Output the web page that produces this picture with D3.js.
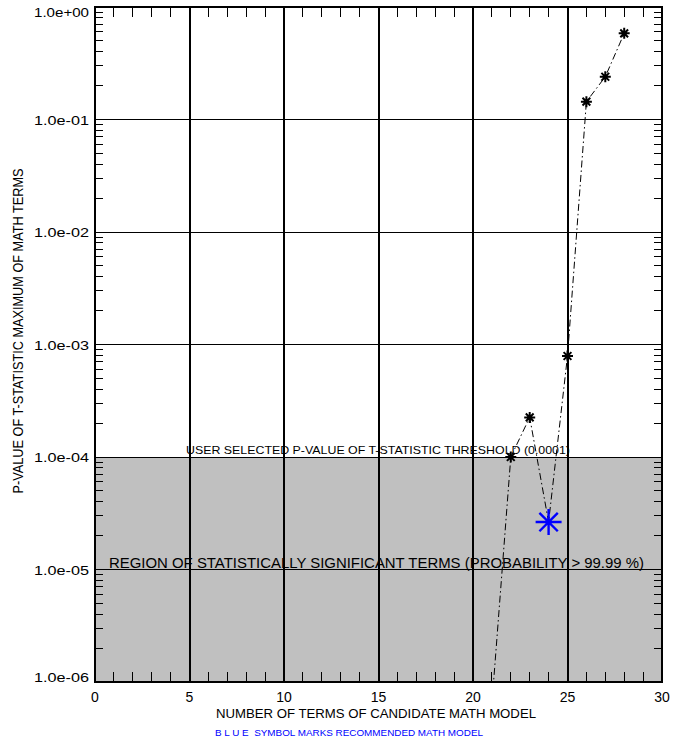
<!DOCTYPE html>
<html>
<head>
<meta charset="utf-8">
<script src="https://cdn.jsdelivr.net/npm/d3@7"></script>
<style>
  body { margin: 0; background: #fff; }
  text { font-family: "Liberation Sans", "DejaVu Sans", sans-serif; }
</style>
</head>
<body>
<div id="chart"></div>
<script>
// number of terms in candidate model and p-value of t-statistic maximum
const terms = [21, 22, 23, 24, 25, 26, 27, 28];
const pValues = [6.4e-7, 1.0e-4, 2.25e-4, 2.64e-5, 7.9e-4, 0.144, 0.24, 0.583];
const recommendedTerm = 24;
const threshold = 1e-4;

const xTicks = [0, 5, 10, 15, 20, 25, 30];
const yTicks = [1e0, 1e-1, 1e-2, 1e-3, 1e-4, 1e-5, 1e-6];
const yTickLabels = ['1.0e+00', '1.0e-01', '1.0e-02', '1.0e-03', '1.0e-04', '1.0e-05', '1.0e-06'];

const width = 673, height = 742;
const margin = { left: 95, right: 11, top: 7, bottom: 60 };

const svg = d3.select('#chart').append('svg')
  .attr('width', width)
  .attr('height', height);

const x = d3.scaleLinear().domain([0, 30]).range([margin.left, width - margin.right]);
const y = d3.scaleLog().domain([1e-6, 1]).range([height - margin.bottom, margin.top]);

const x0 = x.range()[0], x1 = x.range()[1];
const yTop = y.range()[1], yBot = y.range()[0];

// shaded region below the threshold
svg.append('rect')
  .attr('x', x0).attr('y', y(threshold))
  .attr('width', x1 - x0).attr('height', yBot - y(threshold))
  .attr('fill', '#c0c0c0')
  .attr('shape-rendering', 'crispEdges');

// grid lines
svg.append('g').attr('shape-rendering', 'crispEdges')
  .selectAll('line')
  .data(xTicks.slice(1, -1))
  .join('line')
  .attr('x1', d => x(d)).attr('x2', d => x(d))
  .attr('y1', yTop).attr('y2', yBot)
  .attr('stroke', '#000').attr('stroke-width', 2);

svg.append('g').attr('shape-rendering', 'crispEdges')
  .selectAll('line')
  .data(yTicks.slice(1, -1))
  .join('line')
  .attr('x1', x0).attr('x2', x1)
  .attr('y1', d => y(d)).attr('y2', d => y(d))
  .attr('stroke', '#000').attr('stroke-width', 1);

// minor ticks
const xMinor = d3.range(1, 30).filter(d => d % 5 !== 0);
const gx = svg.append('g').attr('stroke', '#000').attr('stroke-width', 1)
  .attr('shape-rendering', 'crispEdges');
gx.selectAll('line.b').data(xMinor).join('line').attr('class', 'b')
  .attr('x1', d => x(d)).attr('x2', d => x(d))
  .attr('y1', yBot).attr('y2', yBot - 10);
gx.selectAll('line.t').data(xMinor).join('line').attr('class', 't')
  .attr('x1', d => x(d)).attr('x2', d => x(d))
  .attr('y1', yTop).attr('y2', yTop + 10);

const yMinor = [];
for (let e = -6; e < 0; e++) {
  for (let m = 2; m <= 9; m++) yMinor.push(m * Math.pow(10, e));
}
const gy = svg.append('g').attr('stroke', '#000').attr('stroke-width', 1)
  .attr('shape-rendering', 'crispEdges');
gy.selectAll('line.l').data(yMinor).join('line').attr('class', 'l')
  .attr('x1', x0).attr('x2', x0 + 8)
  .attr('y1', d => y(d)).attr('y2', d => y(d));
gy.selectAll('line.r').data(yMinor).join('line').attr('class', 'r')
  .attr('x1', x1).attr('x2', x1 - 8)
  .attr('y1', d => y(d)).attr('y2', d => y(d));

// frame
svg.append('rect')
  .attr('x', x0).attr('y', yTop)
  .attr('width', x1 - x0).attr('height', yBot - yTop)
  .attr('fill', 'none').attr('stroke', '#000').attr('stroke-width', 2)
  .attr('shape-rendering', 'crispEdges');

// tick labels
svg.append('g').selectAll('text')
  .data(xTicks)
  .join('text')
  .attr('x', d => x(d)).attr('y', yBot + 20)
  .attr('text-anchor', 'middle')
  .attr('font-size', 14)
  .text(d => d);

svg.append('g').selectAll('text')
  .data(yTicks)
  .join('text')
  .attr('x', x0 - 6)
  .attr('y', (d, i) => y(d) + (i === 0 ? 10 : i === yTicks.length - 1 ? 0 : 5))
  .attr('text-anchor', 'end')
  .attr('font-size', 12.5)
  .attr('textLength', 55).attr('lengthAdjust', 'spacingAndGlyphs')
  .text((d, i) => yTickLabels[i]);

// axis titles
svg.append('text')
  .attr('x', 376).attr('y', 718)
  .attr('text-anchor', 'middle')
  .attr('font-size', 13.5)
  .attr('textLength', 320).attr('lengthAdjust', 'spacingAndGlyphs')
  .text('NUMBER OF TERMS OF CANDIDATE MATH MODEL');

svg.append('text')
  .attr('transform', 'translate(23,331) rotate(-90)')
  .attr('text-anchor', 'middle')
  .attr('font-size', 14)
  .attr('textLength', 325).attr('lengthAdjust', 'spacingAndGlyphs')
  .text('P-VALUE OF T-STATISTIC MAXIMUM OF MATH TERMS');

svg.append('text')
  .attr('x', 215).attr('y', 736)
  .attr('font-size', 9.5)
  .attr('fill', '#0000ff')
  .attr('textLength', 268).attr('lengthAdjust', 'spacingAndGlyphs')
  .attr('xml:space', 'preserve')
  .text('B L U E  SYMBOL MARKS RECOMMENDED MATH MODEL');

// annotations
svg.append('text')
  .attr('x', 186).attr('y', y(threshold) - 3)
  .attr('font-size', 11)
  .attr('textLength', 384).attr('lengthAdjust', 'spacingAndGlyphs')
  .text('USER SELECTED P-VALUE OF T-STATISTIC THRESHOLD (0.0001)');

svg.append('text')
  .attr('x', 109).attr('y', y(1e-5) - 2)
  .attr('font-size', 14)
  .attr('textLength', 535).attr('lengthAdjust', 'spacingAndGlyphs')
  .text('REGION OF STATISTICALLY SIGNIFICANT TERMS (PROBABILITY > 99.99 %)');

// data line, clipped to plot area
svg.append('clipPath').attr('id', 'plotClip')
  .append('rect')
  .attr('x', x0).attr('y', yTop)
  .attr('width', x1 - x0).attr('height', yBot - yTop);

const points = terms.map((t, i) => ({ t: t, p: pValues[i] }));

svg.append('path')
  .datum(points)
  .attr('clip-path', 'url(#plotClip)')
  .attr('fill', 'none')
  .attr('stroke', '#000')
  .attr('stroke-width', 1)
  .attr('stroke-dasharray', '7,3,1.5,3')
  .attr('d', d3.line().x(d => x(d.t)).y(d => y(d.p)));

// asterisk markers
function asterisk(r) {
  const s = r * Math.SQRT1_2;
  return `M${-r},0L${r},0M0,${-r}L0,${r}M${-s},${-s}L${s},${s}M${-s},${s}L${s},${-s}`;
}

svg.append('g').selectAll('path')
  .data(points.filter(d => d.t !== recommendedTerm && y(d.p) <= yBot))
  .join('path')
  .attr('transform', d => `translate(${x(d.t)},${y(d.p)})`)
  .attr('d', asterisk(5.5))
  .attr('stroke', '#000')
  .attr('stroke-width', 2);

svg.append('g').selectAll('path')
  .data(points.filter(d => d.t === recommendedTerm))
  .join('path')
  .attr('transform', d => `translate(${x(d.t)},${y(d.p)})`)
  .attr('d', asterisk(13))
  .attr('stroke', '#0000ff')
  .attr('stroke-width', 2.4);
</script>
</body>
</html>
